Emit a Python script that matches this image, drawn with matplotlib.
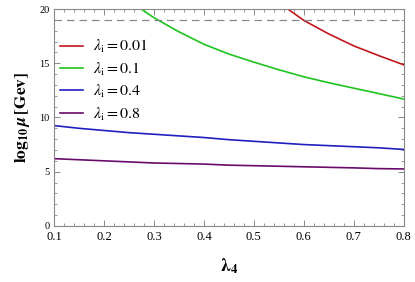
import matplotlib
matplotlib.use('Agg')
import matplotlib.pyplot as plt
from matplotlib.ticker import MultipleLocator

plt.rcParams['font.family'] = ['Liberation Serif', 'DejaVu Serif']
plt.rcParams['mathtext.fontset'] = 'stix'

# 读出来的曲线数据 (lambda_4, log10 mu)
x_red = [0.565, 0.6, 0.65, 0.7, 0.75, 0.8]
y_red = [20.1, 18.95, 17.7, 16.6, 15.7, 14.85]

x_green = [0.265, 0.3, 0.35, 0.4, 0.45, 0.5, 0.55, 0.6, 0.65, 0.7, 0.75, 0.8]
y_green = [20.3, 19.2, 17.9, 16.75, 15.85, 15.1, 14.4, 13.75, 13.2, 12.7, 12.2, 11.7]

x_blue = [0.1, 0.15, 0.2, 0.25, 0.3, 0.35, 0.4, 0.45, 0.5, 0.55, 0.6, 0.65, 0.7, 0.75, 0.8]
y_blue = [9.25, 9.0, 8.8, 8.6, 8.45, 8.3, 8.15, 7.95, 7.8, 7.65, 7.5, 7.4, 7.3, 7.2, 7.05]

x_purple = [0.1, 0.2, 0.3, 0.35, 0.4, 0.45, 0.5, 0.55, 0.6, 0.65, 0.7, 0.75, 0.8]
y_purple = [6.2, 6.0, 5.8, 5.75, 5.7, 5.6, 5.55, 5.5, 5.45, 5.4, 5.35, 5.28, 5.25]

labels = ['0.01', '0.1', '0.4', '0.8']
colors = ['#c0171c', '#1ec41e', '#2020c0', '#6a0a6a']
cutoff = 19


def main():
    fig = plt.figure(figsize=(4.15, 2.82), dpi=100)
    ax = fig.add_axes([0.130, 0.199, 0.843, 0.769])

    series = [(x_red, y_red), (x_green, y_green), (x_blue, y_blue), (x_purple, y_purple)]
    for (xs, ys), lab, c in zip(series, labels, colors):
        ax.plot(xs, ys, color=c, lw=1.2, label=r'$\lambda_{\rm i}=%s$' % lab)

    ax.axhline(cutoff, color='#888888', lw=0.9, ls=(0, (6, 4)))

    ax.set_xlim(0.1, 0.8)
    ax.set_ylim(0, 20)
    ax.xaxis.set_major_locator(MultipleLocator(0.1))
    ax.xaxis.set_minor_locator(MultipleLocator(0.02))
    ax.yaxis.set_major_locator(MultipleLocator(5))
    ax.yaxis.set_minor_locator(MultipleLocator(1))
    ax.tick_params(which='both', direction='in', top=True, right=True, color='#888888')
    ax.tick_params(which='major', length=4, width=0.7)
    ax.tick_params(which='minor', length=2, width=0.6)
    ax.tick_params(axis='x', labelsize=9, pad=4)
    ax.tick_params(axis='y', labelsize=7.5, pad=3)
    for s in ax.spines.values():
        s.set_color('#888888')
        s.set_linewidth(0.8)

    ax.set_xlabel(r'$\mathbf{\lambda_4}$', fontsize=13, labelpad=9)
    ax.set_ylabel(r'$\mathbf{log_{10}}\,\mathbfit{\mu}\,\mathbf{[Gev]}$', fontsize=12.5, labelpad=5)

    ax.legend(loc='upper left', bbox_to_anchor=(0.017, 0.865), frameon=False, fontsize=11.5,
              handlelength=1.45, handletextpad=0.6, labelspacing=0.33,
              borderaxespad=0.0, borderpad=0.0)

    fig.savefig('out.png', dpi=100)


if __name__ == '__main__':
    main()
